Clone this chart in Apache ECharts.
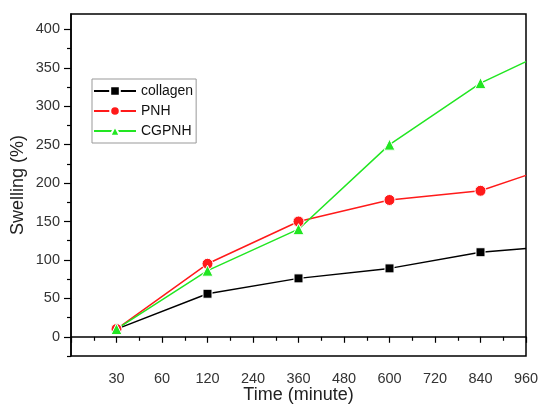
<!DOCTYPE html>
<html>
<head>
<meta charset="utf-8">
<script src="https://cdn.jsdelivr.net/npm/echarts@6/dist/echarts.min.js"></script>
<style>html,body{margin:0;padding:0;background:#fff}#c{width:540px;height:405px}</style>
</head>
<body>
<div id="c"></div>
<script>
var timeLabels = ['30','60','120','240','360','480','600','720','840','960'];
var sampleTimes = ['30','120','360','600','840','960'];
var collagen = [10, 56, 76, 89, 110, 115];
var pnh = [10, 95, 150, 178, 190, 210];
var cgpnh = [10, 86, 140, 250, 330, 358];
var seriesNames = ['collagen', 'PNH', 'CGPNH'];
var yTicks = [0, 50, 100, 150, 200, 250, 300, 350, 400];
var yMinorTicks = [-25, 25, 75, 125, 175, 225, 275, 325, 375];
var xTitle = 'Time (minute)';
var yTitle = 'Swelling (%)';

function toData(vals) {
  return vals.map(function (v, i) {
    var pos = timeLabels.indexOf(sampleTimes[i]) + 1;
    var item = { value: [pos, v] };
    if (i === vals.length - 1) item.symbol = 'none';
    return item;
  });
}

var font = 'Liberation Sans, Arial, sans-serif';
var chart = echarts.init(document.getElementById('c'), null, { renderer: 'canvas' });

function mk(name, vals, color, symbol, size) {
  return {
    name: name, type: 'line', data: toData(vals),
    symbol: symbol, symbolSize: size,
    lineStyle: { color: color, width: 1.5 },
    itemStyle: { color: color, borderColor: '#fff', borderWidth: 1 },
    emphasis: { disabled: true }, animation: false
  };
}

chart.setOption({
  animation: false,
  grid: { left: 71, top: 14, right: 14, bottom: 49, show: true, containLabel: false, outerBoundsMode: 'none', borderColor: '#000', borderWidth: 1.5, backgroundColor: 'transparent' },
  legend: {
    orient: 'vertical', left: 92, top: 79,
    data: seriesNames,
    borderColor: '#999', borderWidth: 1,
    padding: [5, 3, 5, 1], itemGap: 6,
    itemWidth: 42, itemHeight: 12,
    textStyle: { fontFamily: font, fontSize: 14, color: '#111' }
  },
  graphic: [
    { type: 'text', x: 298.5, y: 395, silent: true,
      style: { text: xTitle, align: 'center', verticalAlign: 'middle', font: '18px Liberation Sans, Arial, sans-serif', fill: '#222' } },
    { type: 'text', x: 18, y: 185, rotation: Math.PI / 2, silent: true,
      style: { text: yTitle, align: 'center', verticalAlign: 'middle', font: '18px Liberation Sans, Arial, sans-serif', fill: '#222' } }
  ],
  xAxis: {
    type: 'value', min: 0, max: timeLabels.length, interval: 1,
    splitLine: { show: false },
    axisLine: { lineStyle: { color: '#000', width: 1.5 } },
    axisTick: { length: 6, lineStyle: { color: '#000', width: 1.2 } },
    minorTick: { show: true, splitNumber: 2, length: 4, lineStyle: { color: '#000', width: 1.2 } },
    axisLabel: {
      margin: 15, fontFamily: font, fontSize: 14.5, color: '#333',
      formatter: function (v) { return v >= 1 ? timeLabels[v - 1] : ''; }
    }
  },
  yAxis: [{
    type: 'value', min: -25, max: 420, interval: 25,
    splitLine: { show: false },
    axisLine: { lineStyle: { color: '#000', width: 1.5 } },
    axisTick: { customValues: yTicks, length: 7, lineStyle: { color: '#000', width: 1.2 } },
    axisLabel: {
      customValues: yTicks,
      margin: 11, fontFamily: font, fontSize: 14.5, color: '#333'
    }
  }, {
    type: 'value', min: -25, max: 420, interval: 25, position: 'left',
    splitLine: { show: false },
    axisLine: { show: false },
    axisTick: { customValues: yMinorTicks, length: 4, lineStyle: { color: '#000', width: 1.2 } },
    axisLabel: { show: false }
  }],
  series: [
    mk(seriesNames[0], collagen, '#000000', 'rect', 9),
    mk(seriesNames[1], pnh, '#ff1a1a', 'circle', 11),
    mk(seriesNames[2], cgpnh, '#22e622', 'triangle', 11)
  ]
});
</script>
</body>
</html>
